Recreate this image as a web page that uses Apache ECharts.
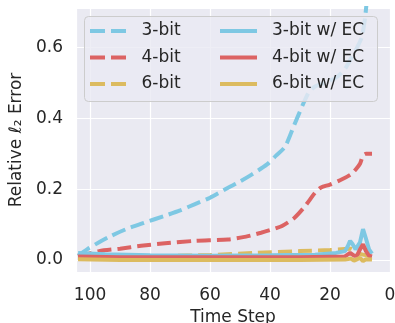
<!DOCTYPE html>
<html>
<head>
<meta charset="utf-8">
<script src="https://cdn.jsdelivr.net/npm/echarts@6/dist/echarts.min.js"></script>
<style>html,body{margin:0;padding:0;background:#fff}#c{width:395px;height:323px}</style>
</head>
<body>
<div id="c"></div>
<script>
// Data (time step, relative l2 error)
const t3 = [104, 101, 97, 93, 88, 82, 75, 70, 65, 60, 54, 50, 46, 41, 38, 35, 32, 29, 27, 25, 22, 18, 15, 13, 11, 9.4, 8.3, 7];
const v3 = [0.012, 0.03, 0.05, 0.068, 0.087, 0.105, 0.125, 0.14, 0.158, 0.176, 0.204, 0.222, 0.242, 0.27, 0.295, 0.32, 0.38, 0.44, 0.475, 0.49, 0.5, 0.515, 0.54, 0.57, 0.6, 0.63, 0.685, 0.8];
const t4 = [104, 97, 90, 83, 75, 65, 54, 48, 43, 38, 36, 32, 29, 27, 25, 23, 20, 16, 13, 11.5, 10, 9, 8, 6];
const v4 = [0.01, 0.025, 0.032, 0.04, 0.047, 0.054, 0.058, 0.066, 0.077, 0.09, 0.096, 0.118, 0.145, 0.167, 0.19, 0.205, 0.213, 0.228, 0.242, 0.255, 0.272, 0.295, 0.3, 0.3];
const t6 = [104, 90, 75, 60, 45, 30, 20, 15, 13, 11, 9, 6];
const v6 = [0.004, 0.008, 0.011, 0.014, 0.02, 0.025, 0.028, 0.031, 0.032, 0.02, 0.015, 0.01];
const t3ec = [104, 95, 80, 60, 40, 25, 18, 15, 14, 13.3, 12.5, 11.5, 11, 10, 9, 8, 7, 6];
const v3ec = [0.02, 0.016, 0.013, 0.012, 0.013, 0.015, 0.02, 0.025, 0.04, 0.054, 0.045, 0.03, 0.027, 0.05, 0.087, 0.06, 0.03, 0.018];
const t4ec = [104, 90, 60, 30, 15, 13.3, 12, 11, 10, 9, 8, 7, 6];
const v4ec = [0.01, 0.008, 0.008, 0.008, 0.01, 0.02, 0.012, 0.012, 0.03, 0.044, 0.025, 0.012, 0.01];
const t6ec = [104, 90, 60, 30, 15, 13, 12, 10, 9, 8, 6];
const v6ec = [0.002, 0.0, 0.0, 0.0, 0.001, 0.004, -0.002, 0.006, -0.003, 0.002, 0.001];
const xTicks = [0, 20, 40, 60, 80, 100];
const yTicks = [0.0, 0.2, 0.4, 0.6];

const BLUE = '#7ec8e3', RED = '#dc6363', YEL = '#dcbb5f';
const FONT = 'DejaVu Sans';
const zip = (t, v) => t.map((x, i) => [x, v[i]]);

const dashedSeries = (name, t, v, color) => ({
  name, type: 'line', data: zip(t, v), symbol: 'none', smooth: 0.25,
  lineStyle: { color, width: 4, type: [14, 6] }, itemStyle: { color }, z: 2
});
const solidSeries = (name, t, v, color) => ({
  name, type: 'line', data: zip(t, v), symbol: 'none',
  lineStyle: { color, width: 4 }, itemStyle: { color }, z: 3
});

const DASH_ICON = 'path://M0,0H15V4H0Z M21,0H36V4H21Z';
const legendCommon = {
  orient: 'vertical', itemWidth: 37, itemHeight: 4, itemGap: 6.5, padding: 0, z: 20,
  textStyle: { fontFamily: FONT, fontSize: 17, color: '#262626', lineHeight: 20, padding: [0, 0, 0, 10] }
};

const chart = echarts.init(document.getElementById('c'), null, { renderer: 'canvas' });
chart.setOption({
  animation: false,
  backgroundColor: '#ffffff',
  textStyle: { fontFamily: FONT },
  grid: { left: 76, right: 5, top: 8, bottom: 51, show: true, backgroundColor: '#eaeaf2', borderWidth: 0,
    containLabel: false, outerBoundsMode: 'none' },
  xAxis: {
    type: 'value', inverse: true, min: 0, max: 104.7, interval: 20,
    name: 'Time Step', nameLocation: 'middle', nameGap: 33,
    nameTextStyle: { fontFamily: FONT, fontSize: 17, color: '#262626' },
    axisLine: { show: false }, axisTick: { show: false },
    axisLabel: { fontFamily: FONT, fontSize: 17, color: '#262626', margin: 15, showMaxLabel: false,
      formatter: v => xTicks.includes(v) ? String(v) : '' },
    splitLine: { show: true, lineStyle: { color: '#ffffff', width: 1.2 } }
  },
  yAxis: {
    type: 'value', min: -0.034, max: 0.712, splitNumber: 4,
    name: 'Relative ℓ₂ Error', nameLocation: 'middle', nameGap: 50,
    nameTextStyle: { fontFamily: FONT, fontSize: 17, color: '#262626' },
    axisLine: { show: false }, axisTick: { show: false },
    axisLabel: { fontFamily: FONT, fontSize: 17, color: '#262626', margin: 13, showMinLabel: false, showMaxLabel: false,
      formatter: v => yTicks.some(y => Math.abs(y - v) < 1e-9) ? v.toFixed(1) : '' },
    splitLine: { show: true, lineStyle: { color: '#ffffff', width: 1.2 } }
  },
  legend: [
    Object.assign({}, legendCommon, { left: 90, top: 21, data: [
      { name: '3-bit', icon: DASH_ICON }, { name: '4-bit', icon: DASH_ICON }, { name: '6-bit', icon: DASH_ICON }] }),
    Object.assign({}, legendCommon, { left: 220, top: 21, data: [
      { name: '3-bit w/ EC', icon: 'rect' }, { name: '4-bit w/ EC', icon: 'rect' }, { name: '6-bit w/ EC', icon: 'rect' }] })
  ],
  graphic: [{
    type: 'rect', z: 10, silent: true,
    shape: { x: 84.5, y: 16.5, width: 293, height: 85, r: 4 },
    style: { fill: 'rgba(234,234,242,0.8)', stroke: '#cccccc', lineWidth: 1 }
  }],
  series: [
    dashedSeries('3-bit', t3, v3, BLUE),
    dashedSeries('4-bit', t4, v4, RED),
    dashedSeries('6-bit', t6, v6, YEL),
    solidSeries('3-bit w/ EC', t3ec, v3ec, BLUE),
    solidSeries('4-bit w/ EC', t4ec, v4ec, RED),
    solidSeries('6-bit w/ EC', t6ec, v6ec, YEL)
  ]
});
</script>
</body>
</html>
